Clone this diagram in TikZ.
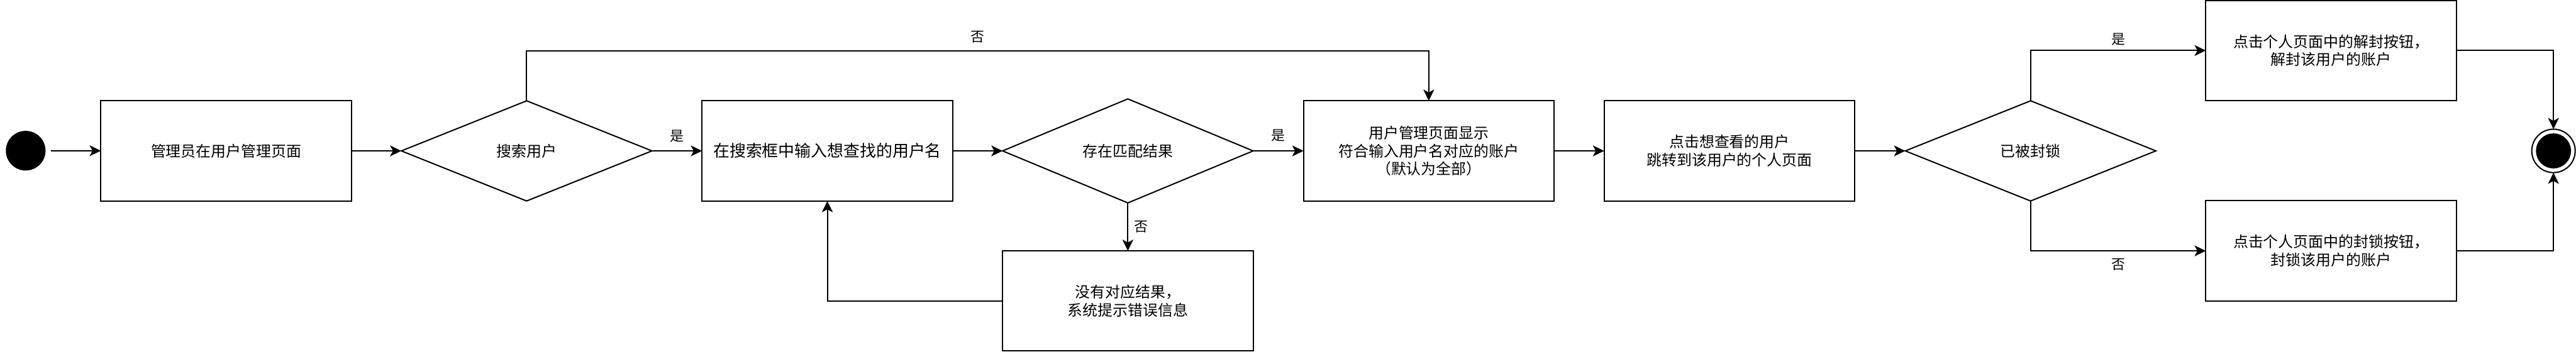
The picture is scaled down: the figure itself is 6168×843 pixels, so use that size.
\documentclass[tikz,border=0pt]{standalone}
\usepackage{fontspec}
\setmainfont{Noto Sans CJK SC}
\usetikzlibrary{shapes.geometric,arrows.meta}
\begin{document}
\begin{tikzpicture}[x=1pt,y=-1pt,
  every node/.style={inner sep=0pt, outer sep=0pt},
  box/.style={draw, line width=3pt, minimum width=600pt, minimum height=240pt, align=center, font=\fontsize{36}{43.2}\selectfont},
  dec/.style={draw, diamond, line width=3pt, minimum width=600pt, minimum height=240pt, align=center, font=\fontsize{36}{43.2}\selectfont},
  arr/.style={line width=3pt, -{Stealth[length=27pt,width=26pt,inset=7pt]}},
  lbl/.style={font=\fontsize{33}{40}\selectfont},
]
\useasboundingbox (0,0) rectangle (6168,843);

\node[circle, fill=black, minimum size=95pt] (start) at (61.5,361) {};
\node[box] (b1) at (541.5,361.5) {管理员在用户管理页面};
\node[dec] (d1) at (1261,361.5) {搜索用户};
\node[box, font=\fontsize{39}{46.8}\selectfont] (b2) at (1981,361.5) {在搜索框中输入想查找的用户名};
\node[dec] (d2) at (2700.5,361.5) {存在匹配结果};
\node[box] (b3) at (3421,361.5) {用户管理页面显示\\符合输入用户名对应的账户\\（默认为全部）};
\node[box] (b4) at (2700.5,721) {没有对应结果，\\系统提示错误信息};
\node[box] (b5) at (4141,361.5) {点击想查看的用户\\跳转到该用户的个人页面};
\node[dec] (d3) at (4862,361.5) {已被封锁};
\node[box] (b6) at (5581.5,121) {点击个人页面中的解封按钮，\\解封该用户的账户};
\node[box] (b7) at (5581.5,601) {点击个人页面中的封锁按钮，\\封锁该用户的账户};
\node[circle, draw, line width=3pt, minimum size=104pt] (end) at (6114,361.5) {};
\node[circle, fill=black, minimum size=84pt] (endin) at (end.center) {};

\draw[arr, shorten <=13pt] (start) -- (b1);
\draw[arr] (b1) -- (d1);
\draw[arr] (d1.east) -- node[lbl, yshift=35pt] {是} (b2.west);
\draw[arr] (d1.north) -- ++(0,-120) -| node[lbl, pos=0.25, yshift=33pt] {否} (b3.north);
\draw[arr] (b2) -- (d2);
\draw[arr] (d2.east) -- node[lbl, yshift=37pt] {是} (b3.west);
\draw[arr] (d2.south) -- node[lbl, xshift=32pt] {否} (b4.north);
\draw[arr] (b4.west) -| (b2.south);
\draw[arr] (b3) -- (b5);
\draw[arr] (b5) -- (d3);
\draw[arr] (d3.north) |- node[lbl, pos=0.75, yshift=27pt] {是} (b6.west);
\draw[arr] (d3.south) |- node[lbl, pos=0.75, yshift=-33pt] {否} (b7.west);
\draw[arr] (b6.east) -| (end.north);
\draw[arr] (b7.east) -| (end.south);
\end{tikzpicture}
\end{document}
